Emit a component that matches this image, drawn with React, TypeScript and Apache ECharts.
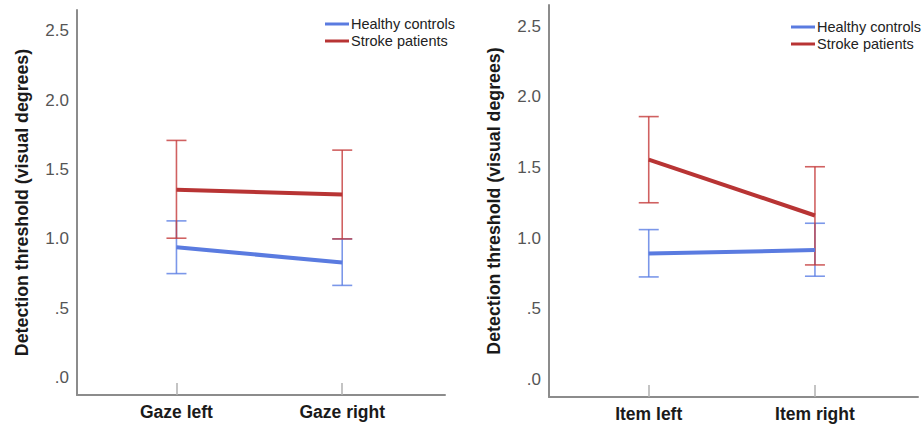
import React, { useEffect, useRef } from "react";
import * as echarts from "echarts";

const gazeCategories = ["Gaze left", "Gaze right"];
const itemCategories = ["Item left", "Item right"];
const yTickValues = [0, 0.5, 1, 1.5, 2, 2.5];
const seriesNames = ["Healthy controls", "Stroke patients"];

const healthyGaze = [0.94, 0.83];
const healthyGazeLow = [0.75, 0.665];
const healthyGazeHigh = [1.13, 1.0];
const strokeGaze = [1.355, 1.32];
const strokeGazeLow = [1.005, 1.0];
const strokeGazeHigh = [1.71, 1.64];

const healthyItem = [0.89, 0.915];
const healthyItemLow = [0.725, 0.73];
const healthyItemHigh = [1.06, 1.105];
const strokeItem = [1.555, 1.16];
const strokeItemLow = [1.25, 0.81];
const strokeItemHigh = [1.86, 1.505];

const BLUE = "#5a7be0";
const RED = "#b83434";
const BLUE_ERR = "rgba(90,125,228,0.8)";
const RED_ERR = "rgba(196,58,58,0.8)";
const FONT = "'Liberation Sans', Arial, sans-serif";

function lineData(vals: number[]) {
  return vals.map((v, i) => [i, v]);
}
function errData(low: number[], high: number[]) {
  return low.map((l, i) => [i, l, high[i]]);
}

function errorSeries(name: string, data: number[][], color: string, idx: number) {
  return {
    type: "custom",
    name,
    xAxisIndex: idx,
    yAxisIndex: idx,
    z: 3,
    encode: { x: 0, y: [1, 2] },
    data,
    renderItem: (params: any, api: any) => {
      const x = api.value(0);
      const lo = api.coord([x, api.value(1)]);
      const hi = api.coord([x, api.value(2)]);
      const half = 10;
      const style = { stroke: color, lineWidth: 1.6 };
      return {
        type: "group",
        children: [
          { type: "line", shape: { x1: lo[0], y1: lo[1], x2: hi[0], y2: hi[1] }, style },
          { type: "line", shape: { x1: lo[0] - half, y1: lo[1], x2: lo[0] + half, y2: lo[1] }, style },
          { type: "line", shape: { x1: hi[0] - half, y1: hi[1], x2: hi[0] + half, y2: hi[1] }, style },
        ],
      };
    },
  };
}

function meanSeries(name: string, vals: number[], color: string, idx: number) {
  return {
    type: "line",
    name,
    xAxisIndex: idx,
    yAxisIndex: idx,
    z: 4,
    symbol: "none",
    data: lineData(vals),
    itemStyle: { color },
    lineStyle: { color, width: 4 },
  };
}

function xAxis(idx: number, cats: string[]) {
  return {
    type: "value",
    gridIndex: idx,
    min: -0.6,
    max: 1.62,
    axisLine: { show: true, onZero: false, lineStyle: { color: "#8c8c8c", width: 2 } },
    axisTick: {
      show: true,
      inside: true,
      length: 12,
      customValues: [0, 1],
      lineStyle: { color: "#b0b0b0", width: 1.5 },
    },
    axisLabel: {
      customValues: [0, 1],
      formatter: (v: number) => cats[Math.round(v)] ?? "",
      color: "#1a1a1a",
      fontWeight: "bold",
      fontSize: 17.5,
      fontFamily: FONT,
      margin: 8,
    },
    splitLine: { show: false },
  };
}

function yAxis(idx: number) {
  return {
    type: "value",
    gridIndex: idx,
    min: -0.125,
    max: 2.65,
    name: "Detection threshold (visual degrees)",
    nameLocation: "middle",
    nameGap: 46,
    nameTextStyle: { color: "#1a1a1a", fontWeight: "bold", fontSize: 17.8, fontFamily: FONT },
    axisLine: { show: true, onZero: false, lineStyle: { color: "#8c8c8c", width: 2 } },
    axisTick: { show: false },
    axisLabel: {
      customValues: yTickValues,
      formatter: (v: number) => v.toFixed(1).replace(/^0/, ""),
      color: "#555555",
      fontSize: 17,
      fontFamily: FONT,
      margin: 8,
    },
    splitLine: { show: false },
  };
}

function legend(left: number, top: number) {
  return {
    left,
    top,
    orient: "vertical",
    data: seriesNames,
    icon: "rect",
    itemWidth: 24,
    itemHeight: 3,
    itemGap: 1,
    selectedMode: false,
    textStyle: { color: "#222", fontSize: 14.5, fontFamily: FONT, lineHeight: 16, padding: [0, 0, 0, -3] },
  };
}

export default function App() {
  const ref = useRef<HTMLDivElement>(null);
  useEffect(() => {
    if (!ref.current) return;
    const chart = echarts.init(ref.current, null, { renderer: "svg" });
    chart.setOption({
      animation: false,
      backgroundColor: "#ffffff",
      legend: [legend(320, 11), legend(786, 14)],
      grid: [
        { left: 77, top: 10, width: 368, height: 385 },
        { left: 549, top: 5, width: 369, height: 392 },
      ],
      xAxis: [xAxis(0, gazeCategories), xAxis(1, itemCategories)],
      yAxis: [yAxis(0), yAxis(1)],
      series: [
        errorSeries("hc-err-gaze", errData(healthyGazeLow, healthyGazeHigh), BLUE_ERR, 0),
        errorSeries("sp-err-gaze", errData(strokeGazeLow, strokeGazeHigh), RED_ERR, 0),
        meanSeries(seriesNames[0], healthyGaze, BLUE, 0),
        meanSeries(seriesNames[1], strokeGaze, RED, 0),
        errorSeries("hc-err-item", errData(healthyItemLow, healthyItemHigh), BLUE_ERR, 1),
        errorSeries("sp-err-item", errData(strokeItemLow, strokeItemHigh), RED_ERR, 1),
        meanSeries(seriesNames[0], healthyItem, BLUE, 1),
        meanSeries(seriesNames[1], strokeItem, RED, 1),
      ],
    });
    return () => chart.dispose();
  }, []);
  return <div ref={ref} style={{ width: 922, height: 426, position: "absolute", left: 0, top: 0 }} />;
}
